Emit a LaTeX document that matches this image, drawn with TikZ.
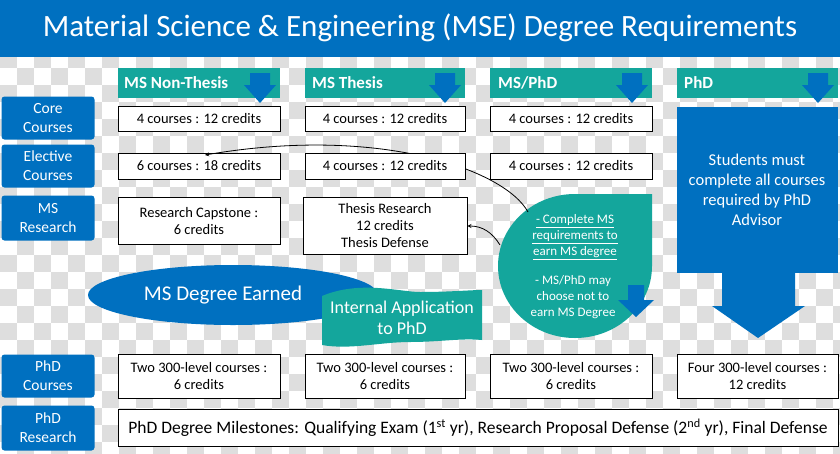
\documentclass[tikz,border=0pt]{standalone}
\usepackage{fontspec}
\setmainfont{Carlito}
\usetikzlibrary{shapes.geometric}
\definecolor{mblue}{RGB}{0,112,192}
\definecolor{mteal}{RGB}{20,166,156}
\definecolor{chk}{RGB}{222,222,222}
\tikzset{
 wbox/.style={draw=black,fill=white,line width=0.9pt,font=\fontsize{14.5}{17}\selectfont,align=center,inner sep=0pt},
 hdr/.style={fill=mteal,text=white,font=\fontsize{17}{19}\selectfont\bfseries,anchor=west,inner sep=0pt},
 rlab/.style={fill=mblue,text=white,rounded corners=3pt,font=\fontsize{15.5}{19}\selectfont,align=center,inner sep=0pt,minimum width=93pt},
 conn/.style={draw=black,line width=0.8pt,-stealth}
}
\newcommand{\downarr}[2]{\fill[mblue] (#1-10,#2) -- (#1+10,#2) -- (#1+10,#2+12) -- (#1+16,#2+12) -- (#1,#2+30) -- (#1-16,#2+12) -- (#1-10,#2+12) -- cycle;}
\begin{document}
\begin{tikzpicture}[x=1pt,y=-1pt]
\useasboundingbox (0,0) rectangle (840,453);
\fill[white] (0,0) rectangle (840,453);
\foreach \i in {0,...,49}{\foreach \j in {0,...,26}{
  \pgfmathtruncatemacro{\p}{mod(\i+\j,2)}
  \ifnum\p=1 \fill[chk] (\i*17,\j*17) rectangle ++(17,17);\fi}}
% title
\fill[mblue] (0,0) rectangle (840,57);
\node[text=white,font=\fontsize{31}{34}\selectfont] (title) at (420,28) {Material Science \& Engineering (MSE) Degree Requirements};
% headers
\fill[mteal] (118,68) rectangle (280,98);
\node[hdr] (h1) at (124,83) {MS Non-Thesis};
\fill[mteal] (305,68) rectangle (465,98);
\node[hdr] (h2) at (312,83) {MS Thesis};
\fill[mteal] (490,68) rectangle (652,98);
\node[hdr] (h3) at (498,83) {MS/PhD};
\fill[mteal] (677,68) rectangle (838,98);
\node[hdr] (h4) at (684,83) {PhD};
\downarr{260}{73}
\downarr{445}{73}
\downarr{632}{73}
\downarr{818}{73}
% row labels
\node[rlab,minimum height=43pt] (r1) at (48,118) {Core\\Courses};
\node[rlab,minimum height=43pt] (r2) at (48,166) {Elective\\Courses};
\node[rlab,minimum height=45pt] (r3) at (48,218) {MS\\Research};
\node[rlab,minimum height=43pt] (r4) at (48,376) {PhD\\Courses};
\node[rlab,minimum height=45pt] (r5) at (48,428) {PhD\\Research};
% core
\node[wbox,minimum width=162pt,minimum height=25pt] (c1) at (199,119) {4 courses : 12 credits};
\node[wbox,minimum width=160pt,minimum height=25pt] (c2) at (385,119) {4 courses : 12 credits};
\node[wbox,minimum width=162pt,minimum height=25pt] (c3) at (571,119) {4 courses : 12 credits};
% PhD column
\fill[mblue] (677,107) rectangle (838,273);
\node[text=white,font=\fontsize{16.5}{20}\selectfont,align=center] (ph) at (757,190) {Students must\\complete all courses\\required by PhD\\Advisor};
\fill[mblue] (722,273) rectangle (795,306) -- (805,306) -- (758,338) -- (712,306) -- (722,306) -- cycle;
% teardrop
\fill[mteal] (652,194) -- (652,266) arc[start angle=0,end angle=270,x radius=77,y radius=72] -- cycle;
\node[text=white,font=\fontsize{13}{16}\selectfont,align=center] (td1) at (575,237) {\underline{- Complete MS}\\\underline{requirements to}\\\underline{earn MS degree}};
\node[text=white,font=\fontsize{13}{16}\selectfont,align=center] (td2) at (573,297) {- MS/PhD may\\choose not to\\earn MS Degree};
\fill[mblue] (628,285) -- (644,285) -- (644,300) -- (654,300) -- (636,317) -- (618,300) -- (628,300) -- cycle;
% curves
\coordinate (s1) at (528,212);
\coordinate (s2) at (500,245);
% elective
\node[wbox,minimum width=162pt,minimum height=26pt] (e1) at (199,166) {6 courses : 18 credits};
\draw[conn] (s1) .. controls (505,170) and (380,125) .. (205,155);
\node[wbox,minimum width=160pt,minimum height=26pt] (e2) at (385,166) {4 courses : 12 credits};
\node[wbox,minimum width=162pt,minimum height=26pt] (e3) at (571,166) {4 courses : 12 credits};
% research
\node[wbox,minimum width=162pt,minimum height=47pt] (m1) at (199,221) {Research Capstone :\\6 credits};
\node[wbox,minimum width=164pt,minimum height=57pt] (m2) at (385,226) {Thesis Research\\12 credits\\Thesis Defense};
\draw[conn] (s2) .. controls (492,232) and (482,226) .. (m2.east);
% ellipse and banner
\node[ellipse,fill=mblue,text=white,minimum width=290pt,minimum height=60pt,font=\fontsize{21}{24}\selectfont,inner sep=0pt] (deg) at (233,295) {\hspace*{-20pt}MS Degree Earned};
\fill[mteal] (322,296) .. controls (360,280) and (400,292) .. (420,292) .. controls (450,292) and (470,290) .. (482,290)
  -- (482,340) .. controls (460,338) and (440,342) .. (410,342) .. controls (380,342) and (350,350) .. (322,345) -- cycle;
\node[text=white,font=\fontsize{18}{21}\selectfont,align=center] (ia) at (402,318) {Internal Application\\to PhD};
% phd courses
\node[wbox,minimum width=162pt,minimum height=44pt] (p1) at (199,376) {Two 300-level courses :\\6 credits};
\node[wbox,minimum width=160pt,minimum height=44pt] (p2) at (385,376) {Two 300-level courses :\\6 credits};
\node[wbox,minimum width=162pt,minimum height=44pt] (p3) at (571,376) {Two 300-level courses :\\6 credits};
\node[wbox,minimum width=161pt,minimum height=44pt] (p4) at (757.5,376) {Four 300-level courses :\\12 credits};
\node[wbox,minimum width=720pt,minimum height=37pt,font=\fontsize{17.5}{20}\selectfont] (pr) at (478,428) {PhD Degree Milestones: Qualifying Exam (1\textsuperscript{st} yr), Research Proposal Defense (2\textsuperscript{nd} yr), Final Defense};
\end{tikzpicture}
\end{document}
